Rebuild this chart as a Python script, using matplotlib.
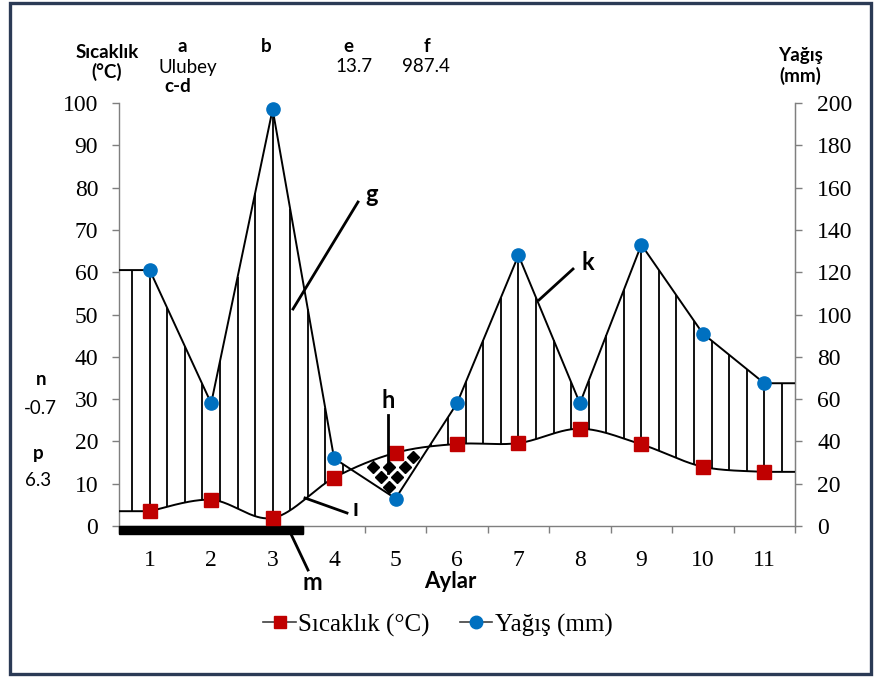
import numpy as np
import matplotlib
matplotlib.use("Agg")
import matplotlib.pyplot as plt
from matplotlib.lines import Line2D
from matplotlib.patches import Rectangle

# ---------------- data ----------------
months = [1, 2, 3, 4, 5, 6, 7, 8, 9, 10, 11]
month_labels = ["1", "2", "3", "4", "5", "6", "7", "8", "9", "10", "11"]
temperature = [3.5, 6.2, 1.9, 11.4, 17.3, 19.4, 19.6, 23.0, 19.3, 14.0, 12.8]
precipitation = [121, 58, 197, 32, 13, 58, 128, 58, 133, 91, 67.5]
frost_span = (0.5, 3.5)
temp_ticks = [0, 10, 20, 30, 40, 50, 60, 70, 80, 90, 100]
prec_ticks = [0, 20, 40, 60, 80, 100, 120, 140, 160, 180, 200]
station = "Ulubey"
mean_temp = "13.7"
total_prec = "987.4"
n_value = "-0.7"
p_value = "6.3"

W, H = 875, 677
RED = "#C00000"
BLUE = "#0070C0"
GRAY = "#7F7F7F"
SERIF = "Liberation Serif"
SANS = ["Lato", "DejaVu Sans"]


def smooth(x, y, n=40):
    pts = np.column_stack([x, y]).astype(float)
    P = np.vstack([pts[0], pts, pts[-1]])
    out = []
    t = np.linspace(0, 1, n, endpoint=False)[:, None]
    for i in range(1, len(P) - 2):
        p0, p1, p2, p3 = P[i - 1], P[i], P[i + 1], P[i + 2]
        c1 = p1 + (p2 - p0) / 6.0
        c2 = p2 - (p3 - p1) / 6.0
        seg = (1 - t) ** 3 * p1 + 3 * (1 - t) ** 2 * t * c1 + 3 * (1 - t) * t ** 2 * c2 + t ** 3 * p2
        out.append(seg)
    out.append(pts[-1:])
    return np.vstack(out)


xlo, xhi = 0.5, len(months) + 0.5
curve = smooth(months, temperature)
tx = np.concatenate([[xlo], curve[:, 0], [xhi]])
ty = np.concatenate([[temperature[0]], curve[:, 1], [temperature[-1]]])
px_ = np.concatenate([[xlo], months, [xhi]])
py_ = np.concatenate([[precipitation[0]], precipitation, [precipitation[-1]]]) / 2.0


def T(x):
    return np.interp(x, tx, ty)


def Pr(x):
    return np.interp(x, px_, py_)


fig = plt.figure(figsize=(W / 100, H / 100), dpi=100)
ax = fig.add_axes([119 / W, 1 - 526 / H, (795 - 119) / W, (526 - 103) / H])
ax.set_xlim(xlo, xhi)
ax.set_ylim(0, 100)

# diagram lines
ax.plot(tx, ty, color="black", lw=1.4, zorder=3)
ax.plot(px_, py_, color="black", lw=1.4, zorder=3)

# humid hatch
hx = 1 + np.arange(-1, 37) * 2 / 7
hx = hx[(hx > xlo) & (hx < xhi)]
mask = Pr(hx) > T(hx)
ax.vlines(hx[mask], T(hx[mask]), Pr(hx[mask]), color="black", lw=1.3, zorder=2)

# arid diamonds (lattice clipped to arid region)
dxs, dys = [], []
for j in range(6):
    yy = 9.2 + 2.4 * j
    for k in range(-6, 8):
        xx = 4.89 - 0.13 * j + 0.26 * k
        if yy < T(xx) - 1.0 and yy > Pr(xx) + 1.2:
            dxs.append(xx)
            dys.append(yy)
ax.plot(dxs, dys, ls="none", marker="D", ms=6.5, color="black", zorder=3)

# markers
ax.plot(months, temperature, ls="none", marker="s", ms=10, color=RED, zorder=5, clip_on=False)

# frost bar
ax.add_patch(Rectangle((frost_span[0], -1.9), frost_span[1] - frost_span[0], 1.9,
                       color="black", clip_on=False, zorder=4))

# axes styling
ax.spines["top"].set_visible(False)
for s in ["left", "bottom", "right"]:
    ax.spines[s].set_color(GRAY)
    ax.spines[s].set_linewidth(1.0)
ax.set_yticks(temp_ticks)
ax.set_yticklabels([str(v) for v in temp_ticks], fontfamily=SERIF, fontsize=17)
ax.tick_params(axis="y", direction="out", length=5, width=1.0, color=GRAY, pad=10)
ax.set_xticks(months)
ax.set_xticklabels(month_labels, fontfamily=SERIF, fontsize=17)
ax.set_xticks(np.arange(xlo, xhi + 0.01, 1.0), minor=True)
ax.tick_params(axis="x", which="major", length=0, pad=17)
ax.tick_params(axis="x", which="minor", direction="out", length=5, width=1.0, color=GRAY)

ax2 = ax.twinx()
ax2.set_ylim(0, 200)
ax2.set_yticks(prec_ticks)
ax2.set_yticklabels([str(v) for v in prec_ticks], fontfamily=SERIF, fontsize=17)
ax2.tick_params(axis="y", direction="out", length=5, width=1.0, color=GRAY, pad=11)
for s in ["top", "left", "bottom"]:
    ax2.spines[s].set_visible(False)
ax2.spines["right"].set_color(GRAY)
ax2.plot(months, precipitation, ls="none", marker="o", ms=9.5, color=BLUE, zorder=6, clip_on=False)


def ftxt(x, y, s, size=14, bold=True, family=SANS):
    fig.text(x / W, 1 - y / H, s, ha="center", va="center", fontsize=size,
             fontweight="bold" if bold else "normal", family=family)


def fline(x0, y0, x1, y1, lw=2.0):
    fig.add_artist(Line2D([x0 / W, x1 / W], [1 - y0 / H, 1 - y1 / H],
                          transform=fig.transFigure, color="black", lw=lw))


ftxt(107, 52, "Sıcaklık", 13.5)
ftxt(107, 72, "(°C)", 13.5)
ftxt(182, 46, "a", 13.5)
ftxt(188, 67, station, 13.5, bold=False)
ftxt(178, 86, "c-d", 13.5)
ftxt(266, 46, "b", 13.5)
ftxt(348, 46, "e", 13.5)
ftxt(354, 67, mean_temp, 13.5, bold=False)
ftxt(427, 46, "f", 13.5)
ftxt(426, 67, total_prec, 13.5, bold=False)
ftxt(800, 55, "Yağış", 13.5)
ftxt(800, 76, "(mm)", 13.5)
ftxt(41, 380, "n", 13.5)
ftxt(40, 408, n_value, 13.5, bold=False)
ftxt(38, 453, "p", 13.5)
ftxt(38, 480, p_value, 13.5, bold=False)
ftxt(450, 582, "Aylar", 16)

ftxt(372, 195, "g", 17)
fline(358, 202, 293, 309)
ftxt(588, 262, "k", 17)
fline(573, 269, 539, 300)
ftxt(388, 400, "h", 17)
fline(388, 415, 388, 473)
ftxt(355, 509, "ı", 17)
fline(305, 498, 347, 513)
ftxt(312, 582, "m", 17)
fline(290, 532, 308, 570)

# legend
handles = [
    Line2D([], [], color="#404040", lw=1.2, marker="s", ms=9, mfc=RED, mec=RED),
    Line2D([], [], color="#404040", lw=1.2, marker="o", ms=9, mfc=BLUE, mec=BLUE),
]
fig.legend(handles, ["Sıcaklık (°C)", "Yağış (mm)"], loc="center",
           bbox_to_anchor=(438 / W, 1 - 625 / H), ncol=2, frameon=False,
           prop={"family": SERIF, "size": 18}, handlelength=1.3, handletextpad=0.1,
           columnspacing=1.2)

# frame
fig.add_artist(Rectangle((10 / W, 3 / H), (871 - 10) / W, (674 - 3) / H,
                         transform=fig.transFigure, fill=False, ec="#2B3A55", lw=2.4))

fig.savefig("out.png", dpi=100)
